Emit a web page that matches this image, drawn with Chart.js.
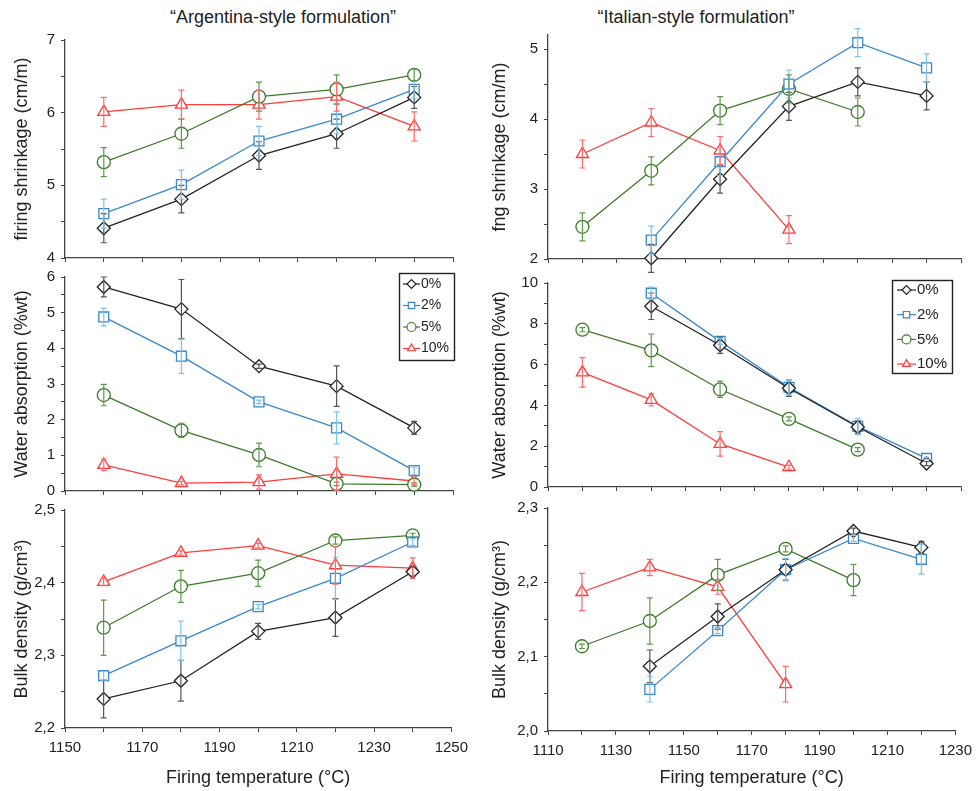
<!DOCTYPE html>
<html>
<head>
<meta charset="utf-8">
<script src="https://cdn.jsdelivr.net/npm/chart.js@4.4.1/dist/chart.umd.min.js"></script>
<style>
    body { margin: 0; background: #fff; width: 979px; height: 791px; position: relative; overflow: hidden; }
    canvas { position: absolute; }
    .titulo { position: absolute; top: 7px; width: 400px; text-align: center; color: #222;
              font-family: 'Liberation Sans Narrow', 'Liberation Sans', Arial, sans-serif; font-size: 18px; }
</style>
</head>
<body>
<div class="titulo" style="left:83px">“Argentina-style formulation”</div>
<div class="titulo" style="left:496px">“Italian-style formulation”</div>
<canvas id="argShrinkChart"></canvas>
<canvas id="argWaterChart"></canvas>
<canvas id="argDensChart"></canvas>
<canvas id="itaShrinkChart"></canvas>
<canvas id="itaWaterChart"></canvas>
<canvas id="itaDensChart"></canvas>
<script>
// Temperaturas de queima
const argTemps = [1160, 1180, 1200, 1220, 1240];
const itaTemps = [1120, 1140, 1160, 1180, 1200, 1220];

// Argentina - firing shrinkage (cm/m)
const argShrink0 = [4.41, 4.81, 5.41, 5.71, 6.21];
const argShrink2 = [4.61, 5.01, 5.61, 5.91, 6.32];
const argShrink5 = [5.32, 5.71, 6.22, 6.32, 6.52];
const argShrink10 = [6.01, 6.11, 6.11, 6.22, 5.81];
const argShrink0Err = [0.2, 0.19, 0.19, 0.2, 0.15];
const argShrink2Err = [0.2, 0.2, 0.2, 0.2, 0.12];
const argShrink5Err = [0.2, 0.2, 0.2, 0.2, 0.08];
const argShrink10Err = [0.2, 0.2, 0.2, 0.2, 0.2];

// Argentina - water absorption (%wt)
const argWater0 = [5.72, 5.10, 3.50, 2.94, 1.77];
const argWater2 = [4.88, 3.78, 2.50, 1.77, 0.57];
const argWater5 = [2.69, 1.70, 1.01, 0.20, 0.18];
const argWater10 = [0.73, 0.22, 0.25, 0.48, 0.28];
const argWater0Err = [0.28, 0.83, 0.06, 0.57, 0.18];
const argWater2Err = [0.25, 0.48, 0.05, 0.45, 0.1];
const argWater5Err = [0.3, 0.2, 0.33, 0.05, 0.05];
const argWater10Err = [0.16, 0.05, 0.2, 0.47, 0.1];

// Argentina - bulk density (g/cm3)
const argDens0 = [2.240, 2.265, 2.333, 2.352, 2.415];
const argDens2 = [2.272, 2.320, 2.367, 2.406, 2.456];
const argDens5 = [2.338, 2.395, 2.413, 2.458, 2.465];
const argDens10 = [2.401, 2.441, 2.451, 2.424, 2.420];
const argDens0Err = [0.026, 0.028, 0.011, 0.026, 0.006];
const argDens2Err = [0.006, 0.027, 0.003, 0.029, 0.005];
const argDens5Err = [0.038, 0.022, 0.018, 0.005, 0.003];
const argDens10Err = [0.005, 0.003, 0.003, 0.026, 0.014];

// Italia - fng shrinkage (cm/m)
const itaShrink0 = [null, 2.01, 3.14, 4.18, 4.53, 4.33];
const itaShrink2 = [null, 2.27, 3.39, 4.50, 5.09, 4.73];
const itaShrink5 = [2.46, 3.26, 4.12, 4.43, 4.10, null];
const itaShrink10 = [3.50, 3.95, 3.55, 2.42, null, null];
const itaShrink0Err = [0, 0.2, 0.2, 0.2, 0.2, 0.2];
const itaShrink2Err = [0, 0.2, 0.2, 0.2, 0.2, 0.2];
const itaShrink5Err = [0.2, 0.2, 0.2, 0.2, 0.2, 0];
const itaShrink10Err = [0.2, 0.2, 0.2, 0.2, 0, 0];

// Italia - water absorption (%wt)
const itaWater0 = [null, 8.86, 6.95, 4.84, 2.94, 1.15];
const itaWater2 = [null, 9.50, 7.14, 4.89, 2.97, 1.40];
const itaWater5 = [7.71, 6.70, 4.79, 3.34, 1.83, null];
const itaWater10 = [5.62, 4.27, 2.11, 0.97, null, null];
const itaWater0Err = [0, 0.65, 0.4, 0.4, 0.3, 0.1];
const itaWater2Err = [0, 0.3, 0.15, 0.35, 0.4, 0.05];
const itaWater5Err = [0.1, 0.8, 0.4, 0.1, 0.1, 0];
const itaWater10Err = [0.72, 0.3, 0.6, 0.1, 0, 0];

// Italia - bulk density (g/cm3)
const itaDens0 = [null, 2.087, 2.154, 2.217, 2.269, 2.247];
const itaDens2 = [null, 2.056, 2.135, 2.217, 2.259, 2.231];
const itaDens5 = [2.114, 2.148, 2.210, 2.245, 2.203, null];
const itaDens10 = [2.187, 2.220, 2.194, 2.063, null, null];
const itaDens0Err = [0, 0.022, 0.017, 0.014, 0.004, 0.008];
const itaDens2Err = [0, 0.017, 0.004, 0.015, 0.004, 0.02];
const itaDens5Err = [0.003, 0.031, 0.021, 0.004, 0.021, 0];
const itaDens10Err = [0.025, 0.011, 0.01, 0.024, 0, 0];

// Séries
const seriesNames = ['0%', '2%', '5%', '10%'];
const seriesColors = ['#222222', '#3a88cc', '#3d7a2a', '#ff3b3b'];
const errorColors = ['#555555', '#7cc4ee', '#5e9a4c', '#ff6a6a'];
const seriesMarkers = ['rectRot', 'rect', 'circle', 'triangle'];
const markerRadius = [6.5, 7, 6.5, 7];

Chart.defaults.font.family = "'Liberation Sans', Arial, sans-serif";
Chart.defaults.color = '#222';

// Barras de erro desenhadas por cima das linhas
const errorBars = {
    id: 'errorBars',
    afterDatasetsDraw(chart) {
        const ctx = chart.ctx;
        const xs = chart.scales.x;
        const ys = chart.scales.y;
        chart.data.datasets.forEach(ds => {
            ctx.save();
            ctx.strokeStyle = ds.errorColor;
            ctx.lineWidth = 1.2;
            ds.data.forEach((p, i) => {
                const e = ds.errors[i];
                if (!e) return;
                const x = xs.getPixelForValue(p.x);
                const y1 = ys.getPixelForValue(p.y + e);
                const y2 = ys.getPixelForValue(p.y - e);
                ctx.beginPath();
                ctx.moveTo(x, y1); ctx.lineTo(x, y2);
                ctx.moveTo(x - 3, y1); ctx.lineTo(x + 3, y1);
                ctx.moveTo(x - 3, y2); ctx.lineTo(x + 3, y2);
                ctx.stroke();
            });
            ctx.restore();
        });
    }
};

// Legenda com caixa, linha e marcador
const boxLegend = {
    id: 'boxLegend',
    afterDraw(chart, args, opts) {
        if (!opts || !opts.show) return;
        const ctx = chart.ctx;
        ctx.save();
        ctx.strokeStyle = '#222';
        ctx.lineWidth = 1.4;
        ctx.strokeRect(opts.x + 0.5, opts.y + 0.5, opts.w, opts.h);
        chart.data.datasets.forEach((ds, i) => {
            const y = opts.y + opts.first + i * opts.step;
            ctx.strokeStyle = ds.borderColor;
            ctx.lineWidth = 1.2;
            ctx.beginPath();
            ctx.moveTo(opts.x + opts.lineStart, y);
            ctx.lineTo(opts.x + opts.lineEnd, y);
            ctx.stroke();
            ctx.fillStyle = '#fff';
            Chart.helpers.drawPoint(ctx, { pointStyle: ds.pointStyle, rotation: 0, radius: 4.5, borderWidth: 1.2 },
                opts.x + (opts.lineStart + opts.lineEnd) / 2, y);
            ctx.fillStyle = '#222';
            ctx.font = opts.fontSize + "px 'Liberation Sans', Arial, sans-serif";
            ctx.textBaseline = 'middle';
            ctx.textAlign = 'left';
            ctx.fillText(ds.label, opts.x + opts.lineEnd + 1, y);
        });
        ctx.restore();
    }
};

function toPoints(temps, values) {
    return temps.map((t, i) => ({ x: t, y: values[i] })).filter(p => p.y !== null);
}

function makePanel(p) {
    const cv = document.getElementById(p.id);
    const [cl, ct, cw, ch] = p.box;
    const [al, at, ar, ab] = p.area;
    cv.style.left = cl + 'px';
    cv.style.top = ct + 'px';
    cv.width = cw;
    cv.height = ch;
    const padL = 11;
    const padB = p.showX ? 2 : 6;
    const isMajor = v => Math.abs(v / p.yStep - Math.round(v / p.yStep)) < 1e-6;

    const datasets = p.values.map((vals, i) => ({
        label: seriesNames[i],
        data: toPoints(p.temps, vals),
        errors: p.errors[i].filter((e, k) => vals[k] !== null),
        errorColor: errorColors[i],
        borderColor: seriesColors[i],
        backgroundColor: '#fff',
        borderWidth: 1.3,
        pointStyle: seriesMarkers[i],
        pointRadius: markerRadius[i],
        pointBorderWidth: 1.3,
        pointBackgroundColor: '#fff',
        pointBorderColor: seriesColors[i],
        tension: 0,
        clip: false
    }));

    return new Chart(cv, {
        type: 'line',
        data: { datasets },
        plugins: [errorBars, boxLegend],
        options: {
            responsive: false,
            animation: false,
            devicePixelRatio: 1,
            layout: { padding: { left: padL, top: at - ct, right: cl + cw - ar, bottom: padB } },
            plugins: {
                legend: { display: false },
                tooltip: { enabled: false },
                boxLegend: p.legend || { show: false }
            },
            scales: {
                x: {
                    type: 'linear',
                    min: p.xMin,
                    max: p.xMax,
                    afterFit: s => { s.height = ct + ch - padB - ab; },
                    ticks: {
                        stepSize: 10,
                        autoSkip: false,
                        maxRotation: 0,
                        padding: 7,
                        font: { size: 15 },
                        callback: v => (p.showX && Math.round(v - p.xMin) % 20 === 0) ? String(v) : ''
                    },
                    grid: { drawOnChartArea: false, tickLength: 4, color: '#444' },
                    border: { color: '#444', width: 1.3 },
                    title: { display: p.showX, text: 'Firing temperature (°C)', font: { size: 18 }, padding: 0 }
                },
                y: {
                    min: p.yMin,
                    max: p.yMax,
                    afterFit: s => { s.width = al - cl - padL; },
                    afterBuildTicks: s => {
                        const half = p.yStep / 2;
                        s.ticks = s.ticks.filter(t => Math.abs(t.value / half - Math.round(t.value / half)) < 1e-6);
                    },
                    ticks: {
                        stepSize: p.yStep / 2,
                        includeBounds: false,
                        autoSkip: false,
                        padding: 6,
                        font: { size: 15 },
                        callback: v => isMajor(v) ? v.toFixed(p.dec).replace('.', ',') : ''
                    },
                    grid: { drawOnChartArea: false, tickLength: 4, color: '#444' },
                    border: { color: '#444', width: 1.3 },
                    title: { display: true, text: p.yTitle, font: { size: 18 }, padding: 0 }
                }
            }
        }
    });
}

const leftLegend = { show: true, x: 399, y: 11, w: 55, h: 87, first: 11, step: 21.5, lineStart: 4, lineEnd: 21, fontSize: 14 };
const rightLegend = { show: true, x: 414, y: 12, w: 60, h: 93, first: 10, step: 24.7, lineStart: 5, lineEnd: 24, fontSize: 15 };

makePanel({
    id: 'argShrinkChart', box: [0, 25, 475, 248], area: [65, 38, 453, 259],
    temps: argTemps, xMin: 1150, xMax: 1250, yMin: 4, yMax: 7, yStep: 1, dec: 0, showX: false,
    yTitle: 'firing shrinkage (cm/m)',
    values: [argShrink0, argShrink2, argShrink5, argShrink10],
    errors: [argShrink0Err, argShrink2Err, argShrink5Err, argShrink10Err]
});
makePanel({
    id: 'argWaterChart', box: [0, 262, 475, 244], area: [65, 275, 453, 492],
    temps: argTemps, xMin: 1150, xMax: 1250, yMin: 0, yMax: 6, yStep: 1, dec: 0, showX: false,
    yTitle: 'Water absorption (%wt)', legend: leftLegend,
    values: [argWater0, argWater2, argWater5, argWater10],
    errors: [argWater0Err, argWater2Err, argWater5Err, argWater10Err]
});
makePanel({
    id: 'argDensChart', box: [0, 495, 475, 296], area: [65, 508, 453, 728],
    temps: argTemps, xMin: 1150, xMax: 1250, yMin: 2.2, yMax: 2.5, yStep: 0.1, dec: 1, showX: true,
    yTitle: 'Bulk density (g/cm³)',
    values: [argDens0, argDens2, argDens5, argDens10],
    errors: [argDens0Err, argDens2Err, argDens5Err, argDens10Err]
});
makePanel({
    id: 'itaShrinkChart', box: [478, 20, 501, 254], area: [548, 33, 961, 260],
    temps: itaTemps, xMin: 1110, xMax: 1230, yMin: 2, yMax: 5.2, yStep: 1, dec: 0, showX: false,
    yTitle: 'fng shrinkage (cm/m)',
    values: [itaShrink0, itaShrink2, itaShrink5, itaShrink10],
    errors: [itaShrink0Err, itaShrink2Err, itaShrink5Err, itaShrink10Err]
});
makePanel({
    id: 'itaWaterChart', box: [478, 268, 501, 234], area: [548, 282, 961, 488],
    temps: itaTemps, xMin: 1110, xMax: 1230, yMin: 0, yMax: 10, yStep: 2, dec: 0, showX: false,
    yTitle: 'Water absorption (%wt)', legend: rightLegend,
    values: [itaWater0, itaWater2, itaWater5, itaWater10],
    errors: [itaWater0Err, itaWater2Err, itaWater5Err, itaWater10Err]
});
makePanel({
    id: 'itaDensChart', box: [478, 493, 501, 298], area: [548, 505, 961, 731],
    temps: itaTemps, xMin: 1110, xMax: 1230, yMin: 2.0, yMax: 2.3, yStep: 0.1, dec: 1, showX: true,
    yTitle: 'Bulk density (g/cm³)',
    values: [itaDens0, itaDens2, itaDens5, itaDens10],
    errors: [itaDens0Err, itaDens2Err, itaDens5Err, itaDens10Err]
});
</script>
</body>
</html>
